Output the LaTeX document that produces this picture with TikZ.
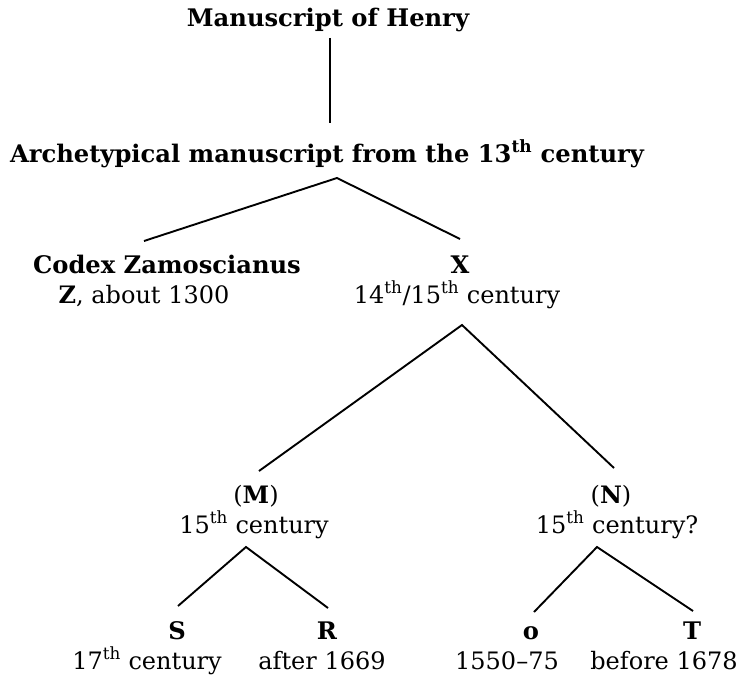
\documentclass[tikz,border=0pt]{standalone}
\usepackage{fontspec}
\setmainfont{DejaVu Serif}
\tikzset{
  txt/.style={font=\fontsize{24}{29}\selectfont, inner sep=0pt, outer sep=0pt, anchor=base},
  btxt/.style={txt, font=\fontsize{24.2}{29}\selectfont\bfseries},
  stemline/.style={line width=1.9pt, draw=black}
}
\begin{document}
\begin{tikzpicture}[x=1pt,y=-1pt]
\useasboundingbox (0,0) rectangle (741,677);
% texts
\node[btxt] (henry) at (328,27) {Manuscript of Henry};
\node[btxt] (arch) at (327,162) {Archetypical manuscript from the 13\textsuperscript{th} century};
\node[btxt] (codex) at (167,273) {Codex Zamoscianus};
\node[txt] (zdate) at (144,303) {\textbf{Z}, about 1300};
\node[btxt] (x) at (460,273) {X};
\node[txt] (xdate) at (457,303) {14\textsuperscript{th}/15\textsuperscript{th} century};
\node[txt] (m) at (256,503) {(\textbf{M})};
\node[txt] (mdate) at (254,533) {15\textsuperscript{th} century};
\node[txt] (n) at (611,503) {(\textbf{N})};
\node[txt] (ndate) at (617,533) {15\textsuperscript{th} century?};
\node[btxt] (s) at (177,639) {S};
\node[txt] (sdate) at (147,669) {17\textsuperscript{th} century};
\node[btxt] (r) at (327,639) {R};
\node[txt] (rdate) at (322,669) {after 1669};
\node[btxt] (o) at (531,639) {o};
\node[txt] (odate) at (507,669) {1550–75};
\node[btxt] (t) at (692,639) {T};
\node[txt] (tdate) at (664,669) {before 1678};
% connector points
\coordinate (henryB) at (330,38);
\coordinate (archT) at (330,123);
\coordinate (archB) at (337,178);
\coordinate (codexT) at (144,241);
\coordinate (xT) at (460,239);
\coordinate (xB) at (462,325);
\coordinate (mT) at (259,471);
\coordinate (nT) at (614,468);
\coordinate (mB) at (246,547);
\coordinate (sT) at (178,606);
\coordinate (rT) at (328,608);
\coordinate (nB) at (597,547);
\coordinate (oT) at (534,612);
\coordinate (tT) at (693,611);
% connectors
\draw[stemline] (henryB) -- (archT);
\draw[stemline] (codexT) -- (archB) -- (xT);
\draw[stemline] (mT) -- (xB) -- (nT);
\draw[stemline] (sT) -- (mB) -- (rT);
\draw[stemline] (oT) -- (nB) -- (tT);
\end{tikzpicture}
\end{document}
